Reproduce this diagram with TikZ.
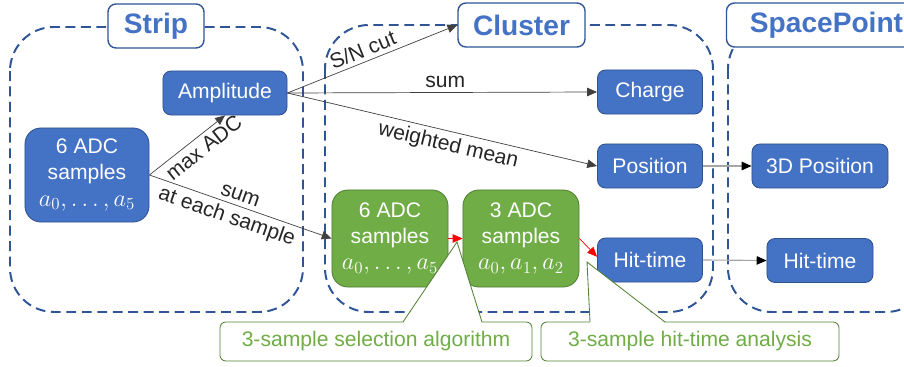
\documentclass[tikz,border=0pt]{standalone}
\usepackage{fontspec}
\setmainfont{Liberation Sans}
\usetikzlibrary{arrows.meta}
\usetikzlibrary{positioning}

\definecolor{boxblue}{RGB}{68,114,196}
\definecolor{edgeblue}{RGB}{47,82,143}
\definecolor{dashblue}{RGB}{47,85,151}
\definecolor{boxgreen}{RGB}{112,173,71}
\definecolor{edgegreen}{RGB}{80,126,50}
\definecolor{notegreen}{RGB}{84,130,53}

\newcommand{\adcrange}[1]{{\fontsize{18}{21}\selectfont$#1$}}

\tikzset{
  bluebox/.style={draw=edgeblue,fill=boxblue,text=white,rounded corners=0.2cm,minimum height=1.1cm,line width=0.6pt,font=\fontsize{15}{18.5}\selectfont,align=center,inner sep=2pt},
  greenbox/.style={draw=edgegreen,fill=boxgreen,text=white,rounded corners=0.4cm,minimum width=2.9cm,minimum height=2.425cm,line width=0.6pt,font=\fontsize{15}{18.5}\selectfont,align=center,inner sep=2pt},
  titlebox/.style={draw=dashblue,fill=white,text=boxblue,rounded corners=0.2cm,minimum height=1.1cm,line width=1pt,font=\fontsize{20}{24}\selectfont\bfseries},
  frame/.style={draw=dashblue,line width=1.4pt,dash pattern=on 7pt off 4pt,rounded corners=1.1cm},
  callout/.style={draw=notegreen,fill=white,text=boxgreen,rounded corners=0.15cm,minimum height=0.975cm,line width=0.6pt,font=\fontsize{15}{18}\selectfont},
  flow/.style={-{Triangle[length=7pt,width=6pt]},black!75,line width=0.5pt},
  redflow/.style={-{Triangle[length=7pt,width=6pt]},red,line width=0.5pt},
  greyflow/.style={-{Triangle[length=7pt,width=6pt,color=black]},black!35,line width=0.8pt},
  lbl/.style={font=\fontsize{15}{18}\selectfont,text=black!85,inner sep=3pt}
}

\begin{document}
\begin{tikzpicture}[x=0.025cm,y=-0.025cm]
\useasboundingbox (0,0) rectangle (904,367);
\clip (0,0) rectangle (904,367);

% dashed frames
\draw[frame] (10,27) rectangle (303,312);
\draw[frame] (325,25) rectangle (713,312);
\draw[frame] (728,25) rectangle (930,312);

% titles
\node[titlebox,minimum width=2.4cm] (striptitle) at (156,26) {Strip};
\node[titlebox,minimum width=3.175cm] (clustertitle) at (521.5,25) {Cluster};
\node[titlebox,minimum width=5cm] (sptitle) at (826.5,25) {SpacePoint};

% strip
\node[bluebox,minimum width=3.1cm] (amp) at (225,93) {Amplitude};
\node[bluebox,minimum width=3.1cm,minimum height=2.35cm,rounded corners=0.4cm] (adc) at (87,175) {6 ADC\\samples\\\adcrange{a_0,\dots,a_5}};

% cluster
\node[greenbox] (gsix) at (390,238.5) {6 ADC\\samples\\\adcrange{a_0,\dots,a_5}};
\node[greenbox] (gthree) at (521,238.5) {3 ADC\\samples\\\adcrange{a_0,a_1,a_2}};
\node[bluebox,minimum width=2.625cm] (charge) at (650,92) {Charge};
\node[bluebox,minimum width=2.625cm] (pos) at (650,166) {Position};
\node[bluebox,minimum width=2.625cm] (hit) at (650,260) {Hit-time};

% spacepoint
\node[bluebox,minimum width=3.4cm] (pos3d) at (820,166) {3D Position};
\node[bluebox,minimum width=2.65cm] (sphit) at (820,260.5) {Hit-time};

% arrows
\draw[flow] (adc.east) -- node[pos=0.62,sloped,below,lbl] {max ADC} (amp.south);
\draw[flow] (adc.east) -- node[pos=0.48,sloped,above,lbl] {sum} node[pos=0.45,sloped,below,lbl] {at each sample} (gsix.west);
\draw[flow] (amp.east) -- node[pos=0.47,sloped,above,lbl] {S/N cut} (clustertitle.west);
\draw[flow] (amp.east) -- node[pos=0.51,above,lbl] {sum} (charge.west);
\draw[flow] (amp.east) -- node[pos=0.53,sloped,below,lbl] {weighted mean} (pos.west);
\draw[redflow] (gsix.east) -- (gthree.west);
\draw[redflow] (gthree.east) -- ([yshift=0.08cm]hit.west);
\draw[greyflow] (pos.east) -- (pos3d.west);
\draw[greyflow] (hit.east) -- (sphit.west);

% notes
\node[callout,minimum width=7.8cm] (selnote) at (376,341.5) {3-sample selection algorithm};
\node[callout,minimum width=7.45cm] (hitnote) at (690,341.5) {3-sample hit-time analysis};
\coordinate (seltip) at (457,242);
\coordinate (selA) at (403,322);
\coordinate (selB) at (482,322);
\fill[white] ([yshift=-0.03cm]selA) -- (seltip) -- ([yshift=-0.03cm]selB) -- cycle;
\draw[notegreen,line width=0.6pt] (selA) -- (seltip) -- (selB);
\coordinate (hittip) at (587,262);
\coordinate (hitA) at (590,322);
\coordinate (hitB) at (665,322);
\fill[white] ([yshift=-0.03cm]hitA) -- (hittip) -- ([yshift=-0.03cm]hitB) -- cycle;
\draw[notegreen,line width=0.6pt] (hitA) -- (hittip) -- (hitB);

\end{tikzpicture}
\end{document}
